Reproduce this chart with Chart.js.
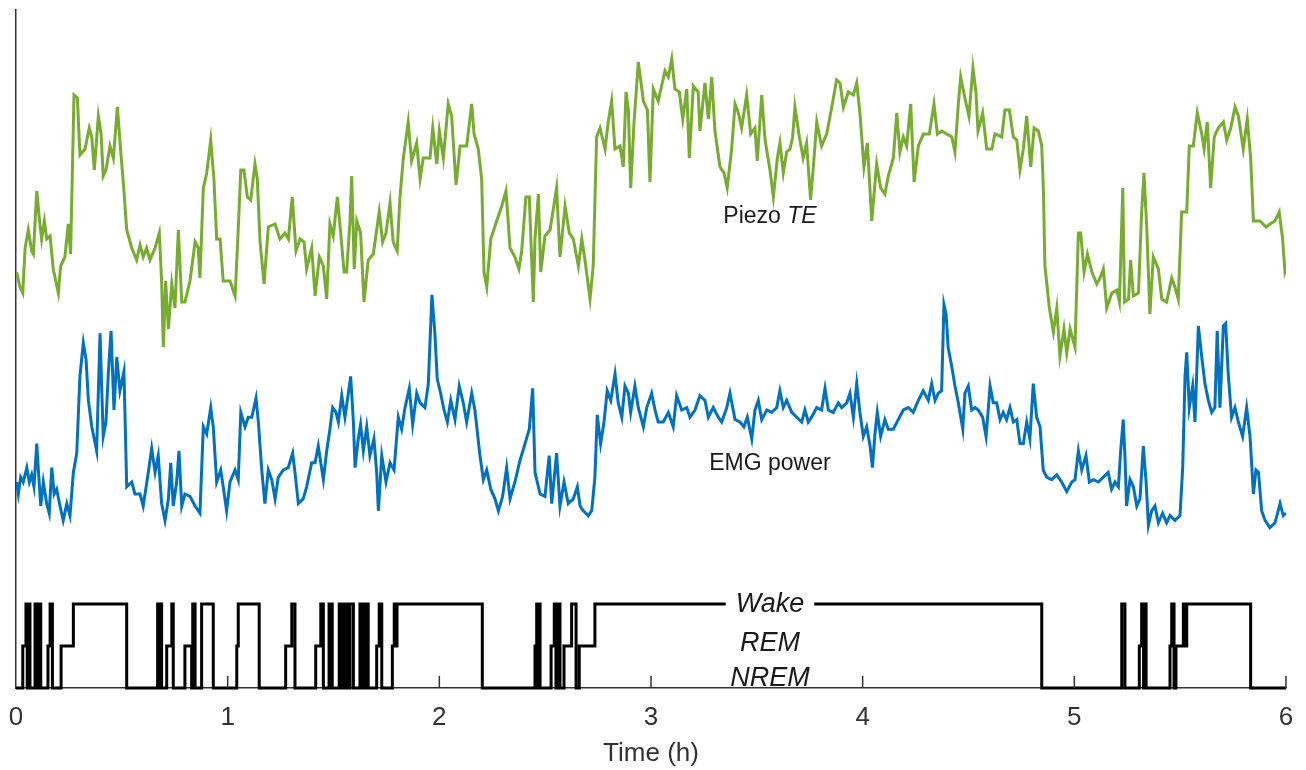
<!DOCTYPE html>
<html>
<head>
<meta charset="utf-8">
<title>Piezo TE, EMG power and sleep stages</title>
<script src="https://cdn.jsdelivr.net/npm/chart.js@4/dist/chart.umd.min.js"></script>
<style>
  html, body { margin: 0; padding: 0; background: #fff; }
</style>
</head>
<body>
<canvas id="sleep" width="1306" height="770"></canvas>
<script>
// values, time in hours
const hourTicks = [0, 1, 2, 3, 4, 5, 6];
const STAGES = ["NREM", "REM", "Wake"]; // code 0, 1, 2

const piezoTime = [
  0.003, 0.019, 0.032, 0.043, 0.058, 0.074, 0.082, 0.098, 0.110, 0.121, 0.134, 0.145, 0.161, 0.176, 0.200, 0.211,
  0.231, 0.247, 0.258, 0.274, 0.290, 0.302, 0.326, 0.346, 0.358, 0.370, 0.389, 0.402, 0.412, 0.425, 0.444, 0.460,
  0.479, 0.495, 0.510, 0.523, 0.547, 0.570, 0.586, 0.601, 0.617, 0.633, 0.657, 0.677, 0.688, 0.696, 0.707, 0.720,
  0.736, 0.751, 0.767, 0.783, 0.798, 0.822, 0.846, 0.861, 0.869, 0.885, 0.901, 0.920, 0.935, 0.948, 0.964, 0.979,
  1.011, 1.035, 1.046, 1.062, 1.077, 1.093, 1.109, 1.129, 1.140, 1.153, 1.172, 1.192, 1.224, 1.247, 1.271, 1.287,
  1.305, 1.323, 1.342, 1.361, 1.373, 1.397, 1.413, 1.433, 1.452, 1.468, 1.483, 1.499, 1.518, 1.534, 1.550, 1.562,
  1.578, 1.586, 1.598, 1.610, 1.628, 1.644, 1.664, 1.688, 1.716, 1.732, 1.748, 1.767, 1.782, 1.801, 1.814, 1.830,
  1.853, 1.869, 1.893, 1.909, 1.924, 1.956, 1.969, 1.988, 2.000, 2.019, 2.042, 2.058, 2.079, 2.098, 2.129, 2.153,
  2.164, 2.184, 2.200, 2.211, 2.224, 2.243, 2.271, 2.295, 2.315, 2.334, 2.357, 2.376, 2.389, 2.409, 2.425, 2.444,
  2.452, 2.468, 2.479, 2.499, 2.523, 2.554, 2.570, 2.594, 2.614, 2.633, 2.657, 2.673, 2.688, 2.712, 2.727, 2.743,
  2.759, 2.783, 2.798, 2.814, 2.830, 2.854, 2.869, 2.882, 2.893, 2.904, 2.920, 2.940, 2.964, 2.983, 2.995, 3.011,
  3.034, 3.066, 3.082, 3.098, 3.113, 3.134, 3.150, 3.169, 3.181, 3.200, 3.223, 3.231, 3.255, 3.271, 3.287, 3.302,
  3.326, 3.345, 3.360, 3.381, 3.397, 3.413, 3.428, 3.452, 3.471, 3.491, 3.502, 3.523, 3.539, 3.562, 3.578, 3.597,
  3.609, 3.625, 3.641, 3.657, 3.669, 3.680, 3.701, 3.719, 3.735, 3.754, 3.767, 3.783, 3.806, 3.830, 3.854, 3.877,
  3.893, 3.909, 3.932, 3.956, 3.972, 3.987, 4.006, 4.022, 4.043, 4.066, 4.085, 4.105, 4.121, 4.145, 4.161, 4.176,
  4.192, 4.208, 4.227, 4.243, 4.263, 4.287, 4.315, 4.337, 4.353, 4.373, 4.397, 4.421, 4.436, 4.452, 4.463, 4.483,
  4.502, 4.521, 4.535, 4.545, 4.567, 4.586, 4.610, 4.625, 4.657, 4.672, 4.693, 4.712, 4.728, 4.743, 4.759, 4.775,
  4.794, 4.810, 4.830, 4.846, 4.854, 4.861, 4.882, 4.901, 4.917, 4.932, 4.951, 4.964, 4.980, 5.003, 5.019, 5.030,
  5.046, 5.062, 5.083, 5.106, 5.122, 5.137, 5.153, 5.177, 5.201, 5.213, 5.229, 5.237, 5.256, 5.266, 5.279, 5.303,
  5.318, 5.329, 5.342, 5.357, 5.373, 5.397, 5.413, 5.436, 5.460, 5.475, 5.491, 5.507, 5.531, 5.543, 5.562, 5.581,
  5.602, 5.613, 5.628, 5.644, 5.661, 5.680, 5.704, 5.720, 5.739, 5.759, 5.775, 5.798, 5.817, 5.833, 5.846, 5.877,
  5.906, 5.924, 5.948, 5.968, 5.984, 5.995, 6.000
];
const piezoTE = [
  26, 21, 19, 34, 40, 33, 32, 53, 44, 37, 43, 37, 38, 27, 19, 28,
  31, 42, 32, 85, 84, 65, 67, 74, 71, 60, 78, 72, 58, 60, 68, 64,
  81, 66, 53, 40, 34, 30, 35, 31, 34, 30, 34, 39, 23, 1, 23, 7,
  22, 14, 40, 16, 16, 23, 36, 34, 24, 54, 59, 70, 57, 37, 37, 23,
  23, 18, 34, 60, 60, 51, 50, 62, 57, 36, 22, 41, 42, 37, 39, 37,
  51, 33, 37, 36, 27, 34, 18, 31, 28, 17, 42, 38, 51, 39, 26, 26,
  43, 58, 27, 43, 39, 16, 30, 32, 46, 36, 39, 49, 36, 33, 51, 64,
  76, 63, 69, 57, 64, 64, 74, 62, 73, 64, 82, 78, 55, 68, 68, 82,
  72, 67, 57, 26, 21, 37, 43, 48, 53, 34, 31, 27, 33, 51, 51, 16,
  37, 52, 26, 38, 40, 54, 31, 48, 39, 37, 28, 37, 30, 17, 28, 71,
  74, 67, 76, 83, 67, 68, 61, 86, 80, 54, 76, 96, 83, 80, 56, 87,
  83, 93, 91, 97, 87, 86, 77, 87, 64, 88, 86, 73, 89, 77, 91, 73,
  61, 59, 54, 67, 82, 79, 74, 85, 72, 74, 63, 85, 70, 60, 51, 64,
  69, 59, 66, 67, 71, 81, 71, 64, 69, 50, 61, 76, 68, 72, 81, 90,
  89, 81, 86, 85, 89, 79, 61, 69, 43, 62, 54, 52, 58, 64, 79, 66,
  71, 68, 82, 56, 68, 72, 72, 82, 72, 73, 72, 71, 66, 82, 91, 84,
  78, 94, 86, 73, 79, 67, 67, 72, 71, 80, 80, 71, 70, 60, 67, 78,
  61, 74, 73, 68, 53, 28, 14, 6, 14, -2, 7, -1, 7, 1, 39, 39,
  26, 32, 26, 22, 24, 27, 14, 19, 20, 16, 54, 16, 17, 30, 18, 19,
  46, 59, 41, 12, 31, 27, 17, 16, 24, 21, 17, 46, 46, 68, 68, 79,
  72, 67, 76, 54, 71, 74, 76, 70, 74, 81, 78, 67, 77, 64, 43, 43,
  41, 42, 43, 46, 37, 26, 27
];

const emgTime = [
  0.003, 0.011, 0.022, 0.034, 0.051, 0.063, 0.074, 0.085, 0.098, 0.105, 0.117, 0.129, 0.145, 0.157, 0.169, 0.180,
  0.192, 0.208, 0.223, 0.240, 0.255, 0.271, 0.287, 0.302, 0.318, 0.331, 0.342, 0.358, 0.381, 0.397, 0.412, 0.425,
  0.436, 0.449, 0.463, 0.476, 0.491, 0.510, 0.523, 0.547, 0.562, 0.586, 0.601, 0.625, 0.641, 0.657, 0.672, 0.688,
  0.704, 0.720, 0.731, 0.743, 0.759, 0.770, 0.783, 0.798, 0.822, 0.846, 0.869, 0.885, 0.901, 0.920, 0.932, 0.948,
  0.967, 0.979, 0.995, 1.011, 1.035, 1.050, 1.062, 1.082, 1.097, 1.114, 1.134, 1.145, 1.161, 1.176, 1.192, 1.208,
  1.224, 1.239, 1.263, 1.286, 1.307, 1.318, 1.334, 1.357, 1.373, 1.397, 1.413, 1.428,
  1.452, 1.468, 1.483, 1.496, 1.512, 1.523, 1.539, 1.554, 1.570, 1.581, 1.594, 1.602, 1.617, 1.628, 1.641, 1.657,
  1.672, 1.691, 1.704, 1.712, 1.728, 1.748, 1.767, 1.786, 1.806, 1.822, 1.838, 1.858, 1.874, 1.893, 1.909, 1.932,
  1.948, 1.965, 1.979, 1.990, 2.006, 2.022, 2.038, 2.054, 2.074, 2.094, 2.113, 2.129, 2.153, 2.168, 2.192, 2.208,
  2.224, 2.243, 2.263, 2.279, 2.299, 2.318, 2.334, 2.357, 2.381, 2.405, 2.425, 2.441, 2.452, 2.476, 2.499, 2.519,
  2.531, 2.554, 2.570, 2.589, 2.609, 2.633, 2.652, 2.665, 2.680, 2.704, 2.720, 2.735, 2.746, 2.762, 2.778, 2.793,
  2.810, 2.830, 2.845, 2.862, 2.877, 2.893, 2.904, 2.924, 2.940,
  2.964, 2.980, 3.003, 3.019, 3.034, 3.058, 3.082, 3.105, 3.121, 3.145, 3.169, 3.184, 3.208, 3.231, 3.255, 3.271,
  3.294, 3.318, 3.334, 3.358, 3.373, 3.397, 3.420, 3.439, 3.455, 3.476, 3.491, 3.507, 3.523, 3.547, 3.570, 3.594,
  3.609, 3.625, 3.641, 3.665, 3.688, 3.712, 3.727, 3.743, 3.759, 3.783, 3.806, 3.822, 3.838, 3.861, 3.885, 3.901,
  3.925, 3.940, 3.956, 3.972, 3.987, 4.003, 4.019, 4.035, 4.046, 4.058, 4.069, 4.085, 4.105, 4.121, 4.145, 4.168,
  4.192, 4.216, 4.239, 4.263, 4.286, 4.310, 4.326, 4.342, 4.357, 4.373, 4.384, 4.394, 4.404, 4.421, 4.436, 4.452,
  4.473, 4.483, 4.499, 4.515, 4.531, 4.546, 4.567, 4.583, 4.602, 4.617, 4.633, 4.649, 4.664, 4.680, 4.696, 4.712,
  4.728, 4.743, 4.759, 4.775, 4.790, 4.806, 4.822, 4.838, 4.853, 4.869, 4.893, 4.917, 4.940, 4.964, 4.988, 5.003,
  5.019, 5.035, 5.055, 5.071, 5.090, 5.113, 5.137, 5.160, 5.176, 5.192, 5.208, 5.219, 5.231, 5.239, 5.247, 5.263,
  5.279, 5.295, 5.310, 5.326, 5.339, 5.350, 5.365, 5.381, 5.397, 5.417, 5.436, 5.452, 5.475, 5.499, 5.512, 5.523,
  5.531, 5.543, 5.559, 5.570, 5.586, 5.602, 5.617, 5.633, 5.649, 5.664, 5.675, 5.688, 5.704, 5.715, 5.727, 5.743,
  5.759, 5.775, 5.795, 5.814, 5.830, 5.846, 5.858, 5.870, 5.885, 5.901, 5.924, 5.948, 5.972, 5.987, 6.000
];
const emgPower = [
  20, 15, 22, 20, 26, 20, 23, 18, 36, 26, 10, 20, 11, 7, 26, 15,
  17, 10, 4, 11, 6, 24, 32, 64, 78, 71, 54, 43, 33, 82, 39, 45,
  65, 83, 50, 72, 58, 66, 18, 20, 15, 15, 10, 24, 34, 24, 31, 11,
  4, 13, 28, 10, 20, 33, 10, 15, 14, 10, 7, 43, 40, 51, 43, 20,
  25, 18, 8, 20, 25, 21, 49, 43, 47, 47, 55, 45, 25, 11, 25, 21,
  13, 22, 25, 26, 32, 24, 11, 13, 18, 28, 28, 35,
  21, 33, 42, 51, 49, 45, 56, 47, 57, 64, 45, 26, 38, 44, 33, 43,
  31, 38, 24, 8, 31, 20, 28, 25, 47, 42, 51, 59, 44, 57, 53, 51,
  61, 98, 82, 63, 57, 50, 45, 54, 46, 60, 53, 45, 57, 50, 31, 21,
  25, 17, 13, 8, 14, 26, 13, 20, 29, 36, 42, 59, 24, 15, 14, 31,
  11, 32, 10, 20, 11, 13, 18, 10, 8, 6, 8, 22, 48, 36, 45, 58,
  54, 65, 53, 47, 60, 57, 49, 60, 51,
  43, 51, 57, 50, 45, 45, 49, 43, 56, 50, 51, 47, 50, 56, 54, 47,
  51, 47, 45, 51, 57, 46, 45, 43, 47, 38, 50, 54, 46, 50, 49, 51,
  58, 51, 54, 49, 47, 45, 50, 45, 47, 51, 50, 59, 50, 49, 53, 51,
  53, 57, 47, 61, 49, 39, 43, 35, 26, 40, 49, 39, 46, 42, 42, 46,
  50, 51, 49, 54, 58, 54, 61, 54, 57, 58, 94, 90, 76, 68, 60, 53,
  42, 57, 60, 50, 51, 50, 47, 39, 60, 53, 53, 46, 49, 46, 51, 45,
  46, 36, 36, 45, 38, 61, 47, 43, 25, 22, 21, 23, 20, 16, 20, 21,
  33, 25, 31, 20, 21, 20, 22, 24, 17, 20, 18, 33, 46, 31, 10, 21,
  18, 10, 13, 35, 20, 2, 8, 10, 3, 7, 3, 6, 4, 6, 26, 64,
  74, 51, 60, 45, 85, 72, 61, 54, 49, 51, 83, 51, 85, 86, 65, 47,
  51, 45, 39, 51, 39, 15, 25, 24, 8, 4, 1, 3, 11, 6, 7
];

// hypnogram: each code holds from its time until the next one
const stageTime = [
  0.000, 0.032, 0.047, 0.053, 0.058, 0.066, 0.090, 0.094, 0.101, 0.107, 0.112, 0.117, 0.151, 0.161, 0.172, 0.213,
  0.271, 0.523, 0.669, 0.676, 0.680, 0.688, 0.712, 0.736, 0.743, 0.798, 0.830, 0.835, 0.846, 0.877, 0.932, 1.043,
  1.050, 1.149, 1.274, 1.303, 1.318, 1.416, 1.440, 1.452, 1.479, 1.486, 1.490, 1.494, 1.527, 1.534, 1.540, 1.550,
  1.562, 1.573, 1.578, 1.594, 1.625, 1.632, 1.637, 1.644, 1.649, 1.656, 1.660, 1.664, 1.704, 1.716, 1.728, 1.778,
  1.787, 1.793, 1.800, 2.203, 2.452, 2.460, 2.466, 2.471, 2.476, 2.528, 2.543, 2.551, 2.558, 2.570, 2.589, 2.625,
  2.646, 2.661, 2.735, 4.846, 5.224, 5.239, 5.307, 5.318, 5.327, 5.331, 5.339, 5.452, 5.460, 5.471, 5.480, 5.515,
  5.521, 5.531, 5.833, 6.000
];
const stageCode = [
  0, 1, 2, 0, 2, 0, 2, 0, 2, 0, 2, 0, 1, 2, 0, 1,
  2, 0, 2, 0, 2, 0, 1, 2, 0, 1, 0, 2, 0, 2, 0, 1,
  2, 0, 1, 2, 0, 1, 2, 0, 2, 0, 2, 0, 2, 0, 2, 0,
  2, 0, 2, 0, 2, 0, 2, 0, 2, 0, 2, 0, 1, 2, 0, 1,
  2, 1, 2, 0, 1, 2, 0, 2, 0, 1, 2, 0, 2, 0, 1, 2,
  0, 1, 2, 0, 2, 0, 1, 2, 0, 2, 0, 1, 2, 0, 1, 2,
  1, 2, 0, 0
];

const GREEN = "#77AC30";
const BLUE = "#0072BD";
const AXIS_COLOR = "#333333";
const FONT = "'Liberation Sans', Arial, Helvetica, sans-serif";

function points(xs, ys) {
  return xs.map((x, i) => ({ x: x, y: ys[i] }));
}

// inward tick marks along the time axis
const innerTicks = {
  id: "innerTicks",
  afterDatasetsDraw(chart) {
    const { ctx, chartArea } = chart;
    const xScale = chart.scales.x;
    ctx.save();
    ctx.strokeStyle = AXIS_COLOR;
    ctx.lineWidth = 1.5;
    hourTicks.forEach((h) => {
      if (h === 0) return;
      const px = xScale.getPixelForValue(h);
      ctx.beginPath();
      ctx.moveTo(px, chartArea.bottom);
      ctx.lineTo(px, chartArea.bottom - 12);
      ctx.stroke();
    });
    ctx.restore();
  },
};

// trace names and stage names written in the middle of the plot
const traceLabels = {
  id: "traceLabels",
  afterDatasetsDraw(chart) {
    const { ctx, scales } = chart;
    const cx = scales.x.getPixelForValue(3.562);
    ctx.save();
    ctx.textBaseline = "middle";
    ctx.fillStyle = "#1a1a1a";

    // "Piezo TE" with TE in italics
    const yPiezo = scales.yPiezo.getPixelForValue(44.3);
    ctx.font = "23px " + FONT;
    const w1 = ctx.measureText("Piezo ").width;
    ctx.font = "italic 23px " + FONT;
    const w2 = ctx.measureText("TE").width;
    const x0 = cx - (w1 + w2) / 2;
    ctx.textAlign = "left";
    ctx.font = "23px " + FONT;
    ctx.fillText("Piezo ", x0, yPiezo);
    ctx.font = "italic 23px " + FONT;
    ctx.fillText("TE", x0 + w1, yPiezo);

    ctx.textAlign = "center";
    ctx.font = "23px " + FONT;
    ctx.fillText("EMG power", cx, scales.yEmg.getPixelForValue(27.5));

    ctx.font = "italic 27px " + FONT;
    const stagePos = [0.22, 1.07, 2];
    STAGES.forEach((name, i) => {
      const py = scales.y.getPixelForValue(stagePos[i]);
      if (name === "Wake") {
        const w = ctx.measureText(name).width;
        ctx.fillStyle = "#ffffff";
        ctx.fillRect(cx - w / 2 - 10, py - 15, w + 20, 30);
        ctx.fillStyle = "#1a1a1a";
      }
      ctx.fillText(name, cx, py);
    });
    ctx.restore();
  },
};

const sleepChart = new Chart(document.getElementById("sleep"), {
  type: "line",
  data: {
    datasets: [
      {
        label: "Piezo TE",
        data: points(piezoTime, piezoTE),
        yAxisID: "yPiezo",
        borderColor: GREEN,
        borderWidth: 3,
        pointRadius: 0,
        tension: 0,
      },
      {
        label: "EMG power",
        data: points(emgTime, emgPower),
        yAxisID: "yEmg",
        borderColor: BLUE,
        borderWidth: 3,
        pointRadius: 0,
        tension: 0,
      },
      {
        label: "Stage",
        data: points(stageTime, stageCode),
        yAxisID: "y",
        borderColor: "#000000",
        borderWidth: 3,
        pointRadius: 0,
        stepped: true,
        clip: false,
      },
    ],
  },
  options: {
    responsive: false,
    animation: false,
    layout: { padding: { left: 16, right: 20, top: 10, bottom: 2 } },
    plugins: {
      legend: { display: false },
      tooltip: { enabled: false },
    },
    scales: {
      x: {
        type: "linear",
        position: "bottom",
        min: 0,
        max: 6,
        afterBuildTicks: (scale) => {
          scale.ticks = hourTicks.map((v) => ({ value: v }));
        },
        ticks: {
          color: AXIS_COLOR,
          font: { family: FONT, size: 26, lineHeight: "54px" },
          padding: 3,
          maxRotation: 0,
        },
        grid: { display: false, drawTicks: false },
        border: { display: true, color: AXIS_COLOR, width: 1.5 },
        title: {
          display: true,
          text: "Time (h)",
          color: AXIS_COLOR,
          font: { family: FONT, size: 26, lineHeight: "12px" },
          padding: { top: 0, bottom: 8 },
        },
      },
      y: {
        position: "left",
        min: 0,
        max: 16.143,
        ticks: { display: false },
        grid: { display: false, drawTicks: false },
        border: { display: true, color: AXIS_COLOR, width: 1.5 },
      },
      yPiezo: { display: false, min: -112.67, max: 113.33 },
      yEmg: { display: false, min: -65.83, max: 216.67 },
    },
  },
  plugins: [innerTicks, traceLabels],
});
</script>
</body>
</html>
